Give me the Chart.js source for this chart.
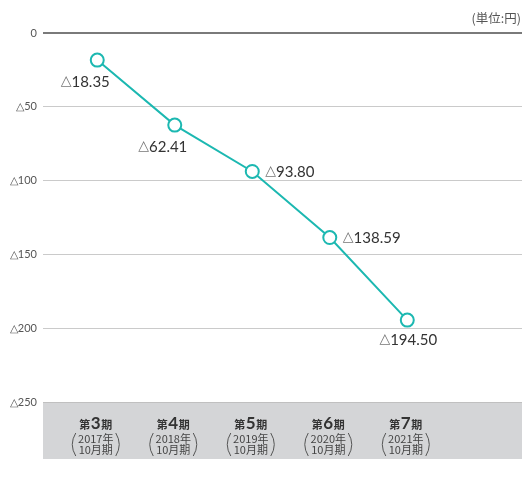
<!DOCTYPE html>
<html>
<head>
<meta charset="utf-8">
<script src="https://cdn.jsdelivr.net/npm/chart.js@4.4.1/dist/chart.umd.min.js"></script>
<style>
  html, body { margin: 0; padding: 0; background: #fff; overflow: hidden; }
  canvas { display: block; }
</style>
</head>
<body>
<canvas id="myChart" width="522" height="487"></canvas>
<script>
// data
const periods = ['3', '4', '5', '6', '7'];
const years = ['2017年', '2018年', '2019年', '2020年', '2021年'];
const values = [-18.35, -62.41, -93.80, -138.59, -194.50];
const yTicks = [0, -50, -100, -150, -200, -250];

// where each value label sits relative to its point
const labelPlace = ['belowLeft', 'belowLeft', 'right', 'right', 'below'];

const teal = '#1cb8b1';
const jpFont = '"Noto Sans CJK JP", "Noto Sans", sans-serif';
const numFont = 'Lato, "Noto Sans", sans-serif';

function triLabel(v) {
  return v === 0 ? '0' : '△' + Math.abs(v);
}

// gray band under the plot + unit text
const bandPlugin = {
  id: 'band',
  beforeDraw(chart) {
    const { ctx, chartArea } = chart;
    const xs = chart.scales.x;
    ctx.save();
    ctx.fillStyle = '#d4d5d7';
    ctx.fillRect(chartArea.left, chartArea.bottom, chartArea.right - chartArea.left, xs.bottom - chartArea.bottom);
    ctx.fillStyle = '#555';
    ctx.font = '12.5px ' + jpFont;
    ctx.textAlign = 'right';
    ctx.textBaseline = 'middle';
    ctx.fillText('(単位:円)', chart.width - 1, 18);
    ctx.restore();
  }
};

// category labels: 第N期 (YYYY年 10月期)
const catPlugin = {
  id: 'cats',
  afterDraw(chart) {
    const { ctx } = chart;
    const xs = chart.scales.x;
    const top = chart.chartArea.bottom;
    ctx.save();
    periods.forEach((p, i) => {
      const cx = xs.getPixelForValue(i) - 1.5;
      // first line, mixed sizes
      ctx.textBaseline = 'alphabetic';
      ctx.font = 'bold 11px ' + jpFont;
      const wa = ctx.measureText('第').width;
      const wc = ctx.measureText('期').width;
      ctx.font = 'bold 17px ' + numFont;
      const wb = ctx.measureText(p).width + 1;
      const x = cx - (wa + wb + wc) / 2;
      const base = top + 27;
      ctx.fillStyle = '#333';
      ctx.textAlign = 'left';
      ctx.font = 'bold 11px ' + jpFont;
      ctx.fillText('第', x, base);
      ctx.font = 'bold 17px ' + numFont;
      ctx.fillText(p, x + wa + 0.5, base);
      ctx.font = 'bold 11px ' + jpFont;
      ctx.fillText('期', x + wa + wb, base);
      // two small lines
      ctx.fillStyle = '#444';
      ctx.textAlign = 'center';
      ctx.font = '11px ' + jpFont;
      ctx.textBaseline = 'middle';
      ctx.fillText(years[i], cx, top + 37);
      ctx.fillText('10月期', cx, top + 48);
      // tall brackets
      ctx.strokeStyle = '#555';
      ctx.lineWidth = 1;
      const yt = top + 31, yb = top + 54, ym = (yt + yb) / 2;
      ctx.beginPath();
      ctx.moveTo(cx - 20, yt);
      ctx.quadraticCurveTo(cx - 27, ym, cx - 20, yb);
      ctx.stroke();
      ctx.beginPath();
      ctx.moveTo(cx + 20, yt);
      ctx.quadraticCurveTo(cx + 27, ym, cx + 20, yb);
      ctx.stroke();
    });
    ctx.restore();
  }
};

// value labels next to points
const valuePlugin = {
  id: 'values',
  afterDatasetsDraw(chart) {
    const { ctx } = chart;
    const meta = chart.getDatasetMeta(0);
    ctx.save();
    ctx.textBaseline = 'middle';
    meta.data.forEach((pt, i) => {
      const num = Math.abs(values[i]).toFixed(2);
      ctx.font = '15px ' + numFont;
      const wn = ctx.measureText(num).width;
      ctx.font = '14px DejaVu Sans, sans-serif';
      const wt = ctx.measureText('△').width;
      const w = wn + wt;
      let x, y;
      if (labelPlace[i] === 'belowLeft') { x = pt.x - 12 - w / 2; y = pt.y + 21; }
      else if (labelPlace[i] === 'right') { x = pt.x + 13; y = pt.y; }
      else { x = pt.x + 1 - w / 2; y = pt.y + 19; }
      ctx.textAlign = 'left';
      ctx.fillStyle = '#777';
      ctx.font = '14px DejaVu Sans, sans-serif';
      ctx.fillText('△', x, y);
      ctx.fillStyle = '#333';
      ctx.font = '15px ' + numFont;
      ctx.fillText(num, x + wt, y + 1);
    });
    ctx.restore();
  }
};

const ctx = document.getElementById('myChart');

new Chart(ctx, {
  type: 'line',
  data: {
    datasets: [{
      data: values.map((v, i) => ({ x: i, y: v })),
      borderColor: teal,
      borderWidth: 2,
      pointRadius: 6.5,
      pointBorderWidth: 2,
      pointBackgroundColor: '#fff',
      pointBorderColor: teal,
      tension: 0
    }]
  },
  options: {
    responsive: false,
    animation: false,
    layout: { autoPadding: false, padding: { top: 33, bottom: 28, left: 0, right: 0 } },
    plugins: { legend: { display: false }, tooltip: { enabled: false } },
    scales: {
      x: {
        type: 'linear',
        bounds: 'data',
        min: -0.7,
        max: 5.48,
        grid: { display: false },
        border: { display: false },
        ticks: { display: false, stepSize: 1 },
        afterDataLimits(scale) { scale.min = -0.7; scale.max = 5.48; },
        afterFit(scale) { scale.height = 57; }
      },
      y: {
        min: -250,
        max: 0,
        afterBuildTicks(scale) { scale.ticks = yTicks.map(v => ({ value: v })); },
        afterFit(scale) { scale.width = 43; },
        border: { display: false },
        grid: {
          drawTicks: false,
          color: c => c.tick.value === 0 ? '#7a7a7a' : (c.tick.value === -250 ? '#c0c0c0' : '#cacaca'),
          lineWidth: c => c.tick.value === 0 ? 2 : 1
        },
        ticks: {
          padding: 6,
          color: '#555',
          font: { family: 'Lato, "Noto Sans", sans-serif', size: 11 },
          callback: v => triLabel(v)
        }
      }
    }
  },
  plugins: [bandPlugin, catPlugin, valuePlugin]
});
</script>
</body>
</html>
